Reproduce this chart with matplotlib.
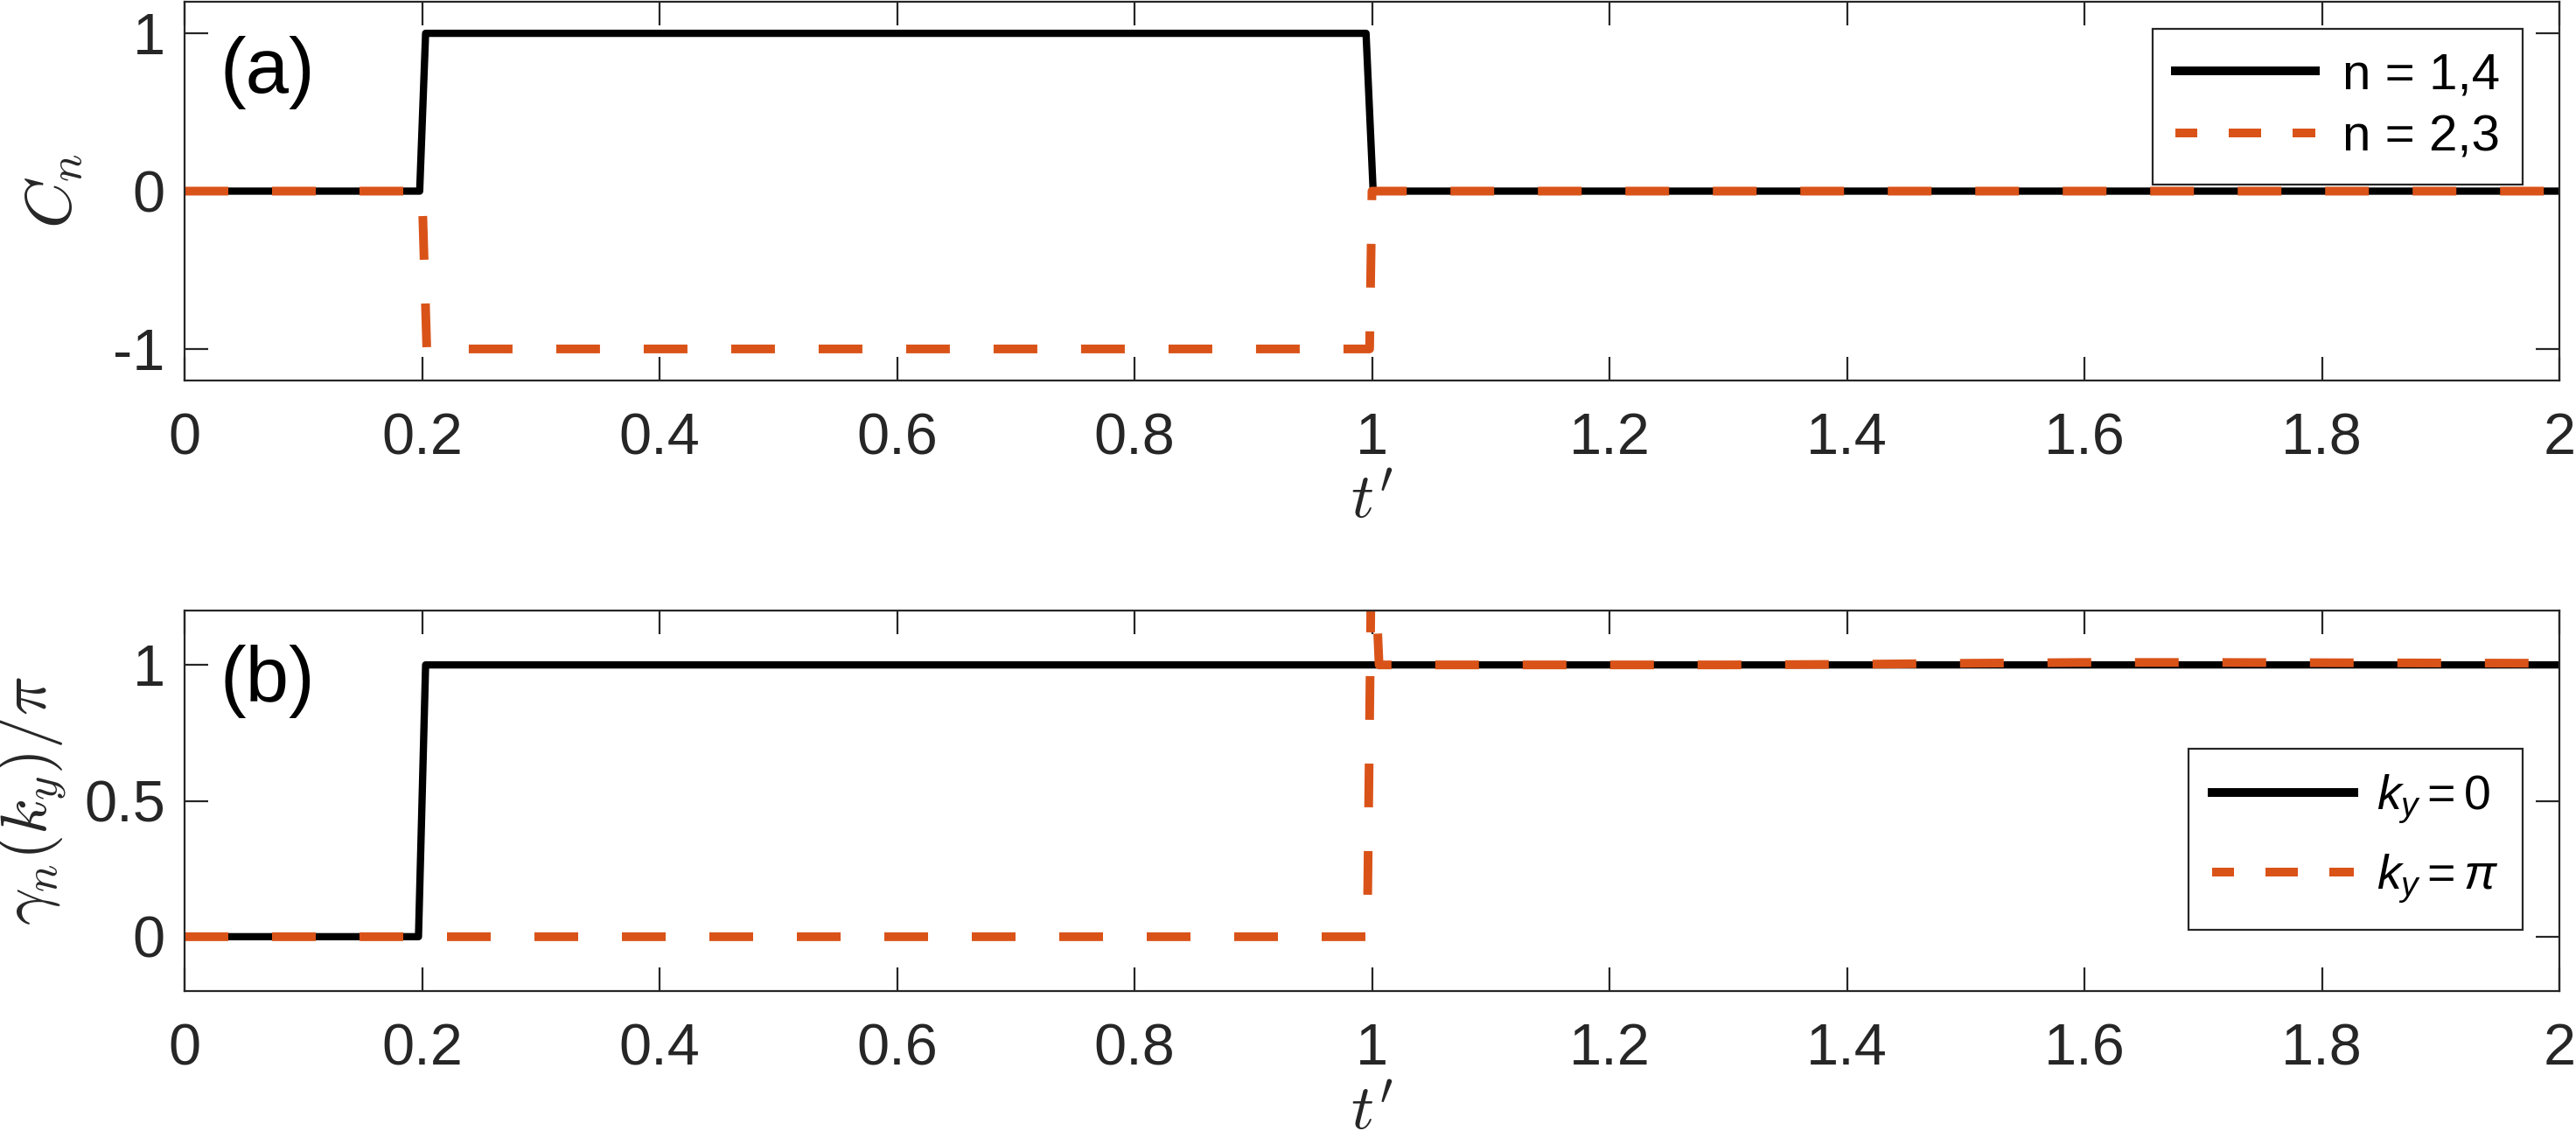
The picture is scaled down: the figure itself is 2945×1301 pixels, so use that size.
import matplotlib
matplotlib.use('Agg')
import matplotlib.pyplot as plt
from matplotlib.lines import Line2D
from matplotlib.ticker import FixedLocator, FixedFormatter

# ---------------- data ----------------
t_ticks = [0, 0.2, 0.4, 0.6, 0.8, 1.0, 1.2, 1.4, 1.6, 1.8, 2.0]
t_tick_labels = ['0', '0.2', '0.4', '0.6', '0.8', '1', '1.2', '1.4', '1.6', '1.8', '2']
Cn_ticks = [-1, 0, 1]
Cn_tick_labels = ['-1', '0', '1']
gamma_ticks = [0, 0.5, 1]
gamma_tick_labels = ['0', '0.5', '1']

# panel (a): Chern numbers
t_C14 = [0.0, 0.198, 0.203, 0.995, 1.001, 2.0]
C14 = [0, 0, 1, 1, 0, 0]
t_C23 = [0.0, 0.200, 0.204, 0.998, 1.000, 2.0]
C23 = [0, 0, -1, -1, 0, 0]

# panel (b): Berry phases
t_g0 = [0.0, 0.197, 0.203, 2.0]
g0 = [0, 0, 1, 1]
t_gpi = [0.0, 0.996, 1.000, 1.006, 1.30, 1.40, 1.50, 1.60, 1.70, 1.80, 1.90, 2.0]
gpi = [0, 0, 1.6, 1.0, 1.0, 1.002, 1.006, 1.009, 1.009, 1.008, 1.007, 1.006]

labels_a = ['n = 1,4', 'n = 2,3']
labels_b = [r'$k_y = 0$', r'$k_y = \pi$']

# ---------------- style ----------------
plt.rcParams['font.family'] = ['Liberation Sans', 'DejaVu Sans']
plt.rcParams['mathtext.fontset'] = 'cm'
plt.rcParams['mathtext.rm'] = 'Liberation Sans'
plt.rcParams['mathtext.it'] = 'Liberation Sans:italic'
plt.rcParams['mathtext.bf'] = 'Liberation Sans:bold'

AX_COL = '#262626'
ORANGE = '#D95319'
W, H = 2945, 1301
DPI = 200

fig = plt.figure(figsize=(W / DPI, H / DPI), dpi=DPI)
left, right = 211, 2926
axA = fig.add_axes([left / W, 1 - 435 / H, (right - left) / W, 433 / H])
axB = fig.add_axes([left / W, 1 - 1133 / H, (right - left) / W, 435 / H])


def style(ax, yt, ytl, ylim):
    ax.set_xlim(0, 2)
    ax.set_ylim(*ylim)
    ax.xaxis.set_major_locator(FixedLocator(t_ticks))
    ax.xaxis.set_major_formatter(FixedFormatter(t_tick_labels))
    ax.yaxis.set_major_locator(FixedLocator(yt))
    ax.yaxis.set_major_formatter(FixedFormatter(ytl))
    ax.tick_params(which='both', direction='in', length=9.7, width=0.8,
                   top=True, right=True, labelsize=24, colors=AX_COL,
                   labelcolor=AX_COL)
    ax.tick_params(axis='x', pad=13)
    ax.tick_params(axis='y', pad=8)
    for s in ax.spines.values():
        s.set_linewidth(0.8)
        s.set_color(AX_COL)


style(axA, Cn_ticks, Cn_tick_labels, (-1.2, 1.2))
style(axB, gamma_ticks, gamma_tick_labels, (-0.2, 1.2))

axA.plot(t_C14, C14, color='black', lw=3.0)
axA.plot(t_C23, C23, color=ORANGE, lw=3.6, linestyle=(0, (5, 5)))
axB.plot(t_g0, g0, color='black', lw=3.0)
axB.plot(t_gpi, gpi, color=ORANGE, lw=3.6, linestyle=(0, (5, 5)))

h_black = Line2D([], [], color='black', lw=3.6)
h_orange = Line2D([], [], color=ORANGE, lw=3.6, linestyle=(1.2, (3.7, 3.6)))

legA = axA.legend([h_black, h_orange], labels_a, loc='upper right',
                  bbox_to_anchor=((2884 - left) / (right - left), (435 - 33) / 433),
                  borderaxespad=0, fontsize=21, handlelength=2.74,
                  handletextpad=0.52, borderpad=0.45, labelspacing=0.3,
                  fancybox=False, framealpha=1, edgecolor=AX_COL)
legA.get_frame().set_linewidth(0.8)

legB = axB.legend([h_black, h_orange], labels_b, loc='upper right',
                  bbox_to_anchor=((2884 - left) / (right - left), (1133 - 856) / 435),
                  borderaxespad=0, fontsize=20, handlelength=2.9,
                  handletextpad=0.47, borderpad=0.5, labelspacing=0.55,
                  fancybox=False, framealpha=1, edgecolor=AX_COL)
legB.get_frame().set_linewidth(0.8)
for t in legB.get_texts():
    t.set_math_fontfamily('custom')

axA.text(0.015, 0.813, '(a)', transform=axA.transAxes, fontsize=32,
         va='center', ha='left')
axB.text(0.015, 0.814, '(b)', transform=axB.transAxes, fontsize=32,
         va='center', ha='left')

axA.set_ylabel(r'$C_n$', fontsize=27, color=AX_COL)
axA.yaxis.set_label_coords(-0.0416, 0.5)
axB.set_ylabel(r'$\gamma_n(k_y)/\pi$', fontsize=27, color=AX_COL)
axB.yaxis.set_label_coords(-0.049, 0.5)

axA.set_xlabel(r"$t'$", fontsize=26, color=AX_COL)
axA.xaxis.set_label_coords(0.5, -0.243)
axB.set_xlabel(r"$t'$", fontsize=26, color=AX_COL)
axB.xaxis.set_label_coords(0.5, -0.243)

fig.savefig('out.png', dpi=DPI)
